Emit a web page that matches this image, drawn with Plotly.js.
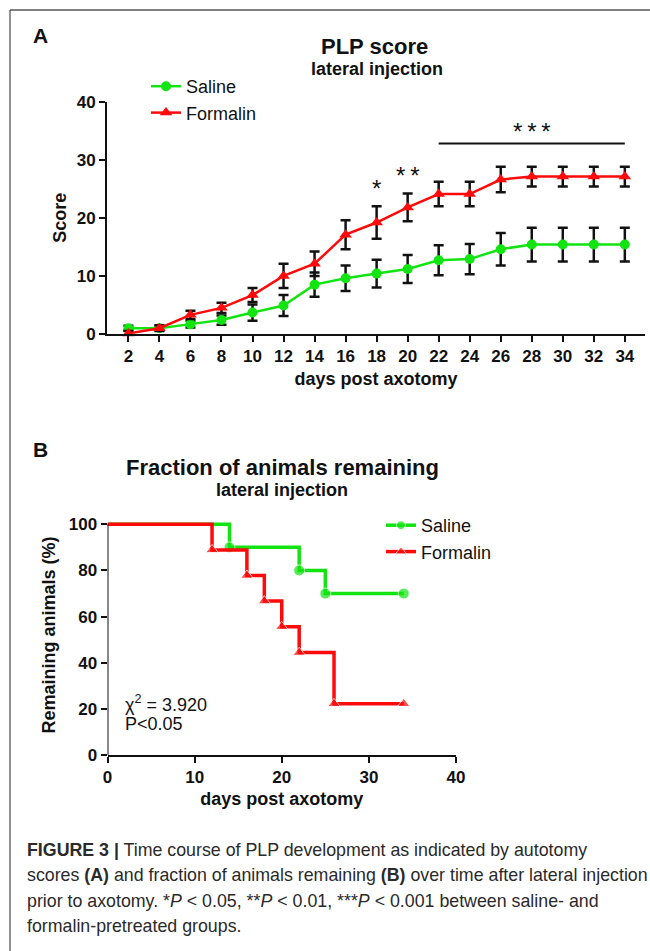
<!DOCTYPE html>
<html><head><meta charset="utf-8">
<script src="https://cdn.plot.ly/plotly-3.0.1.min.js"></script>
<style>html,body{margin:0;padding:0;background:#fff}#chart{width:650px;height:951px}</style>
</head><body><div id="chart"></div>
<script>
// ---- Panel A: PLP score ----
const days = [2,4,6,8,10,12,14,16,18,20,22,24,26,28,30,32,34];
const salineScore = [1.0,1.0,1.7,2.4,3.7,4.9,8.5,9.6,10.4,11.2,12.7,12.9,14.6,15.4,15.4,15.4,15.4];
const salineSem   = [0.4,0.4,0.6,0.8,1.4,1.8,2.1,2.2,2.4,2.4,2.6,2.6,2.8,2.9,2.9,2.9,2.9];
const formalinScore = [0.1,1.0,3.3,4.5,6.7,10.0,12.1,17.1,19.2,21.8,24.1,24.1,26.6,27.1,27.1,27.1,27.1];
const formalinSem   = [0.4,0.5,0.7,0.9,1.2,2.1,2.1,2.5,2.8,2.4,2.1,2.1,2.2,1.7,1.7,1.7,1.7];
const sigDays = [18,20];
const sigLabels = ['*','*\u2009*'];
const sigRangeStart = 22, sigRangeEnd = 34, sigRangeLabel = '*\u2009*\u2009*';

// ---- Panel B: fraction of animals remaining ----
const salineSurvDays = [0,14,22,25,34];
const salineSurvPct  = [100,90,80,70,70];
const formalinSurvDays = [0,12,16,18,20,22,26,34];
const formalinSurvPct  = [100,88.9,77.8,66.7,55.6,44.4,22.2,22.2];
const chiText = 'χ<sup>2</sup> = 3.920';
const pText = 'P&lt;0.05';

const captionLines = [
  '<b>FIGURE 3 |</b> Time course of PLP development as indicated by autotomy',
  'scores <b>(A)</b> and fraction of animals remaining <b>(B)</b> over time after lateral injection',
  'prior to axotomy. *<i>P</i> &lt; 0.05, **<i>P</i> &lt; 0.01, ***<i>P</i> &lt; 0.001 between saline- and',
  'formalin-pretreated groups.'
];

const GREEN = '#11e411', RED = '#ff0a0a', INK = '#111111';
const W = 650, H = 951;
const px = v => v / W, py = v => 1 - v / H;
const FONT = 'Liberation Sans, Arial, sans-serif';

const traces = [
  {x: days, y: salineScore, name: 'Saline', type: 'scatter', mode: 'lines+markers',
   line: {color: GREEN, width: 2.5}, marker: {symbol: 'circle', size: 10, color: GREEN},
   error_y: {type: 'data', array: salineSem, color: INK, thickness: 2.5, width: 5},
   xaxis: 'x', yaxis: 'y', legend: 'legend', cliponaxis: false},
  {x: days, y: formalinScore, name: 'Formalin', type: 'scatter', mode: 'lines+markers',
   line: {color: RED, width: 2.5}, marker: {symbol: 'triangle-up', size: 11, color: RED},
   error_y: {type: 'data', array: formalinSem, color: INK, thickness: 2.5, width: 5},
   xaxis: 'x', yaxis: 'y', legend: 'legend', cliponaxis: false},
  {x: salineSurvDays, y: salineSurvPct, name: 'Saline', type: 'scatter', mode: 'lines+markers',
   line: {color: GREEN, width: 3.5, shape: 'hv'},
   marker: {symbol: 'circle', size: salineSurvDays.map((d, i) => i === 0 ? 0 : 11), color: GREEN},
   xaxis: 'x2', yaxis: 'y2', legend: 'legend2', cliponaxis: false},
  {x: formalinSurvDays, y: formalinSurvPct, name: 'Formalin', type: 'scatter', mode: 'lines+markers',
   line: {color: RED, width: 3.5, shape: 'hv'},
   marker: {symbol: 'triangle-up', size: formalinSurvDays.map((d, i) => i === 0 ? 0 : 11), color: RED},
   xaxis: 'x2', yaxis: 'y2', legend: 'legend2', cliponaxis: false}
];

const axisBase = {
  showline: true, linecolor: INK, linewidth: 2, ticks: 'outside', ticklen: 6, tickwidth: 2, tickcolor: INK,
  showgrid: false, zeroline: false, fixedrange: true,
  tickfont: {family: FONT, size: 17, color: INK, weight: 'bold'}
};
const titleFont = {family: FONT, size: 18, color: INK, weight: 'bold'};
const mid = {xref: 'paper', yref: 'paper', showarrow: false, yanchor: 'middle', xanchor: 'center'};

const annotations = [
  Object.assign({}, mid, {text: '<b>A</b>', x: px(40), y: py(36), font: {family: FONT, size: 21, color: INK}}),
  Object.assign({}, mid, {text: '<b>PLP score</b>', x: px(375), y: py(46), font: {family: FONT, size: 22, color: INK}}),
  Object.assign({}, mid, {text: '<b>lateral injection</b>', x: px(377), y: py(69), font: {family: FONT, size: 18, color: INK}}),
  Object.assign({}, mid, {text: '<b>B</b>', x: px(40), y: py(450), font: {family: FONT, size: 21, color: INK}}),
  Object.assign({}, mid, {text: '<b>Fraction of animals remaining</b>', x: px(282), y: py(467), font: {family: FONT, size: 22, color: INK}}),
  Object.assign({}, mid, {text: '<b>lateral injection</b>', x: px(282), y: py(490), font: {family: FONT, size: 18, color: INK}}),
  Object.assign({}, mid, {text: chiText, x: px(123), y: py(703), xanchor: 'left', font: {family: FONT, size: 18, color: INK}}),
  Object.assign({}, mid, {text: pText, x: px(123), y: py(724), xanchor: 'left', font: {family: FONT, size: 18, color: INK}}),
  {text: sigRangeLabel, x: (sigRangeStart + sigRangeEnd) / 2, y: 35.3, xref: 'x', yref: 'y', yanchor: 'middle',
   showarrow: false, yshift: -3, font: {family: FONT, size: 24, color: INK}}
];
sigDays.forEach((d, i) => {
  const yi = days.indexOf(d);
  annotations.push({text: sigLabels[i], x: d, y: formalinScore[yi] + formalinSem[yi], xref: 'x', yref: 'y',
    yanchor: 'bottom', yshift: 2, showarrow: false, font: {family: FONT, size: 24, color: INK}});
});
captionLines.forEach((t, i) => {
  annotations.push(Object.assign({}, mid, {text: t, x: px(25), y: py(850 + i * 25.3), xanchor: 'left',
    font: {family: FONT, size: 17.8, color: '#2a2a2a'}}));
});

// y2 range extends a little above 100 so the 100 % step lines are not clipped; its axis line is drawn as a shape up to 100
const y2Top = 104;
const layout = {
  width: W, height: H, margin: {l: 0, r: 0, t: 0, b: 0},
  paper_bgcolor: '#ffffff', plot_bgcolor: 'rgba(0,0,0,0)',
  font: {family: FONT, color: INK},
  xaxis: Object.assign({}, axisBase, {domain: [px(107), px(645)], range: [0.62, 35.3], tickvals: days,
    anchor: 'y', title: {text: 'days post axotomy', font: titleFont, standoff: 7}}),
  yaxis: Object.assign({}, axisBase, {domain: [py(334), py(101.7)], range: [0, 40], tickvals: [0, 10, 20, 30, 40],
    anchor: 'x', title: {text: 'Score', font: titleFont, standoff: 5}}),
  xaxis2: Object.assign({}, axisBase, {domain: [px(107.5), px(456)], range: [0, 40], tickvals: [0, 10, 20, 30, 40],
    anchor: 'y2', title: {text: 'days post axotomy', font: titleFont, standoff: 6}}),
  yaxis2: Object.assign({}, axisBase, {domain: [py(755), py(755 - 230.7 * y2Top / 100)], range: [0, y2Top],
    tickvals: [0, 20, 40, 60, 80, 100], showline: false,
    anchor: 'x2', title: {text: 'Remaining animals (%)', font: titleFont, standoff: 8}}),
  legend: {x: px(146), y: py(68), xanchor: 'left', yanchor: 'top', bgcolor: 'rgba(0,0,0,0)',
    font: {family: FONT, size: 18, color: INK}},
  legend2: {x: px(381), y: py(507), xanchor: 'left', yanchor: 'top', bgcolor: 'rgba(0,0,0,0)',
    font: {family: FONT, size: 18, color: INK}},
  shapes: [
    {type: 'line', xref: 'x', yref: 'y', x0: sigRangeStart, x1: sigRangeEnd, y0: 32.8, y1: 32.8, line: {color: INK, width: 2}},
    {type: 'line', xref: 'x2', yref: 'y2', x0: 0, x1: 0, y0: 0, y1: 100, line: {color: INK, width: 2}},
    {type: 'line', xref: 'paper', yref: 'paper', x0: px(10), x1: 1, y0: py(10), y1: py(10), line: {color: '#555', width: 1.3}},
    {type: 'line', xref: 'paper', yref: 'paper', x0: px(10), x1: px(10), y0: py(10), y1: 0, line: {color: '#555', width: 1.3}}
  ],
  annotations: annotations,
  showlegend: true
};

Plotly.newPlot('chart', traces, layout, {displayModeBar: false, staticPlot: true});
</script>
</body></html>
